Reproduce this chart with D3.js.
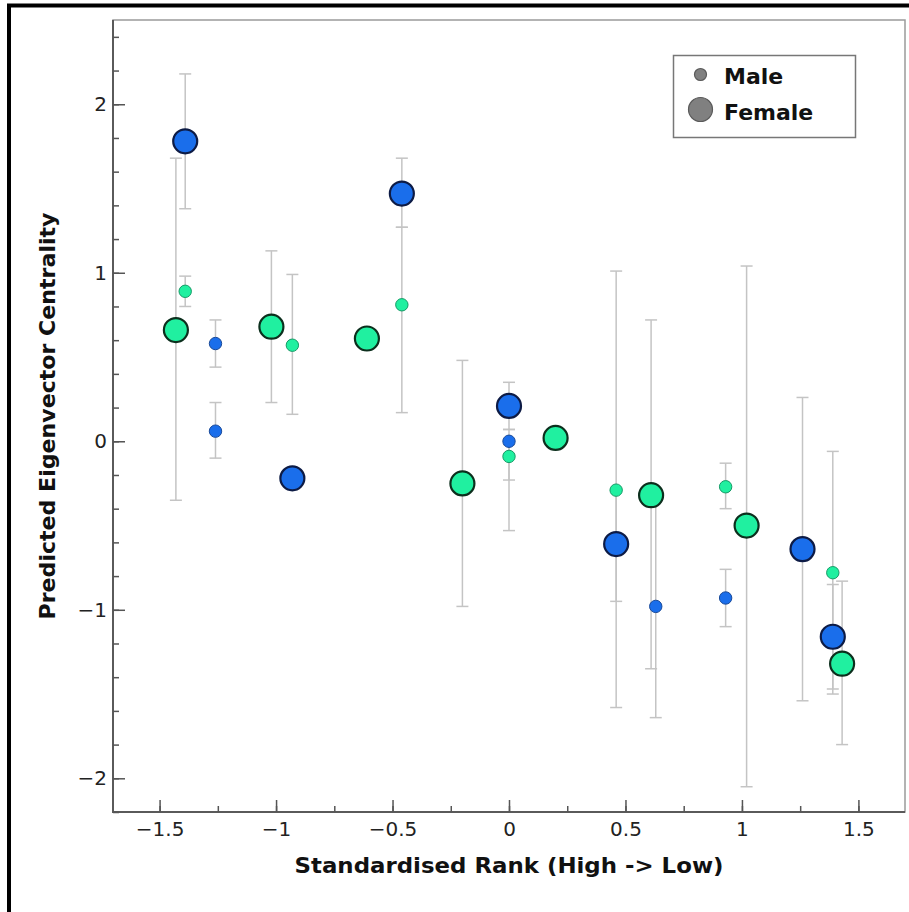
<!DOCTYPE html>
<html>
<head>
<meta charset="utf-8">
<script src="https://cdn.jsdelivr.net/npm/d3@7"></script>
<style>
  html, body { margin: 0; padding: 0; background: #fff; }
  svg { display: block; }
</style>
</head>
<body>
<svg id="chart" width="909" height="912"></svg>
<script>
// Females, blue group
const femBlueX  = [-1.39, -0.93, -0.46, 0.00, 0.46, 1.26, 1.39];
const femBlueY  = [1.78, -0.22, 1.47, 0.21, -0.61, -0.64, -1.16];
const femBlueLo = [1.38, null, 1.27, 0.07, -1.58, -1.54, -1.47];
const femBlueHi = [2.18, null, 1.68, 0.35, -0.29, 0.26, -0.85];

// Females, green group
const femGreenX  = [-1.43, -1.02, -0.61, -0.20, 0.20, 0.61, 1.02, 1.43];
const femGreenY  = [0.66, 0.68, 0.61, -0.25, 0.02, -0.32, -0.50, -1.32];
const femGreenLo = [-0.35, 0.23, null, -0.98, null, -1.35, -2.05, -1.80];
const femGreenHi = [1.68, 1.13, null, 0.48, null, 0.72, 1.04, -0.83];

// Males, blue group
const maleBlueX  = [-1.26, -1.26, 0.00, 0.63, 0.93];
const maleBlueY  = [0.58, 0.06, 0.00, -0.98, -0.93];
const maleBlueLo = [0.44, -0.10, -0.23, -1.64, -1.10];
const maleBlueHi = [0.72, 0.23, 0.07, -0.36, -0.76];

// Males, green group
const maleGreenX  = [-1.39, -0.93, -0.46, 0.00, 0.46, 0.93, 1.39];
const maleGreenY  = [0.89, 0.57, 0.81, -0.09, -0.29, -0.27, -0.78];
const maleGreenLo = [0.80, 0.16, 0.17, -0.53, -0.95, -0.40, -1.50];
const maleGreenHi = [0.98, 0.99, 1.27, -0.02, 1.01, -0.13, -0.06];

const xTicks = [-1.5, -1, -0.5, 0, 0.5, 1, 1.5];
const yTicks = [-2, -1, 0, 1, 2];
const legendLabels = ["Male", "Female"];

const xTitle = "Standardised Rank (High -> Low)";
const yTitle = "Predicted Eigenvector Centrality";

const svg = d3.select("#chart");
const plotLeft = 113, plotTop = 20, plotRight = 905, plotBottom = 812;

const x = d3.scaleLinear().domain([-1.7, 1.7]).range([plotLeft, plotRight]);
const y = d3.scaleLinear().domain([-2.2, 2.5]).range([plotBottom, plotTop]);

const BLUE = "#1a6eeb", GREEN = "#20f0a0";

// outer border of the figure
svg.append("path")
  .attr("d", "M9,912 V5.5 H909")
  .attr("fill", "none").attr("stroke", "#000").attr("stroke-width", 4);

// plot frame
svg.append("rect")
  .attr("x", plotLeft).attr("y", plotTop)
  .attr("width", plotRight - plotLeft).attr("height", plotBottom - plotTop)
  .attr("fill", "none").attr("stroke", "#9a9a9a").attr("stroke-width", 1.5);
svg.append("path")
  .attr("d", `M${plotLeft},${plotTop} V${plotBottom} H${plotRight}`)
  .attr("fill", "none").attr("stroke", "#5a5a5a").attr("stroke-width", 2);

const fmt = d3.format("");
const tickFont = "'DejaVu Sans', Verdana, sans-serif";

// x axis: major and minor ticks pointing inward
const xMinor = d3.range(-7, 8).map(v => v * 0.25).filter(v => Math.abs(v) <= 1.7);
svg.append("g")
  .attr("transform", `translate(0,${plotBottom})`)
  .call(d3.axisBottom(x).tickValues(xMinor).tickSize(-6).tickFormat(""))
  .call(g => g.select(".domain").remove())
  .call(g => g.selectAll("line").attr("stroke", "#555").attr("stroke-width", 1.5));
svg.append("g")
  .attr("transform", `translate(0,${plotBottom})`)
  .call(d3.axisBottom(x).tickValues(xTicks).tickSize(-12).tickPadding(10).tickFormat(fmt))
  .call(g => g.select(".domain").remove())
  .call(g => g.selectAll("line").attr("stroke", "#555").attr("stroke-width", 1.5))
  .call(g => g.selectAll("text").attr("fill", "#222")
    .style("font-family", tickFont).style("font-size", "20px"));

// y axis
const yMinor = d3.range(-11, 13).map(v => v / 5);
svg.append("g")
  .attr("transform", `translate(${plotLeft},0)`)
  .call(d3.axisLeft(y).tickValues(yMinor).tickSize(-6).tickFormat(""))
  .call(g => g.select(".domain").remove())
  .call(g => g.selectAll("line").attr("stroke", "#555").attr("stroke-width", 1.5));
svg.append("g")
  .attr("transform", `translate(${plotLeft},0)`)
  .call(d3.axisLeft(y).tickValues(yTicks).tickSize(-12).tickPadding(6).tickFormat(fmt))
  .call(g => g.select(".domain").remove())
  .call(g => g.selectAll("line").attr("stroke", "#555").attr("stroke-width", 1.5))
  .call(g => g.selectAll("text").attr("fill", "#222")
    .style("font-family", tickFont).style("font-size", "20px"));

// axis titles
const titleFont = "Tahoma, 'DejaVu Sans', sans-serif";
svg.append("text")
  .attr("x", (plotLeft + plotRight) / 2).attr("y", 873)
  .attr("text-anchor", "middle")
  .attr("textLength", 429).attr("lengthAdjust", "spacingAndGlyphs")
  .style("font-family", titleFont).style("font-weight", "bold").style("font-size", "21px")
  .attr("fill", "#111")
  .text(xTitle);
svg.append("text")
  .attr("transform", `translate(55,${(plotTop + plotBottom) / 2}) rotate(-90)`)
  .attr("text-anchor", "middle")
  .attr("textLength", 407).attr("lengthAdjust", "spacingAndGlyphs")
  .style("font-family", titleFont).style("font-weight", "bold").style("font-size", "21px")
  .attr("fill", "#111")
  .text(yTitle);

// assemble series for drawing
function series(xs, ys, los, his, color, big) {
  return xs.map((v, i) => ({ x: v, y: ys[i], lo: los[i], hi: his[i], color, big }));
}
const points = [
  ...series(femGreenX, femGreenY, femGreenLo, femGreenHi, GREEN, true),
  ...series(femBlueX, femBlueY, femBlueLo, femBlueHi, BLUE, true),
  ...series(maleGreenX, maleGreenY, maleGreenLo, maleGreenHi, GREEN, false),
  ...series(maleBlueX, maleBlueY, maleBlueLo, maleBlueHi, BLUE, false)
];

// error bars
const errColor = "#c4c4c4";
const eb = svg.append("g").attr("stroke", errColor).attr("stroke-width", 1.5).attr("fill", "none");
points.filter(d => d.lo !== null && d.hi !== null).forEach(d => {
  const cx = x(d.x);
  eb.append("line").attr("x1", cx).attr("x2", cx).attr("y1", y(d.lo)).attr("y2", y(d.hi));
  eb.append("line").attr("x1", cx - 6).attr("x2", cx + 6).attr("y1", y(d.lo)).attr("y2", y(d.lo));
  eb.append("line").attr("x1", cx - 6).attr("x2", cx + 6).attr("y1", y(d.hi)).attr("y2", y(d.hi));
});

// points
const strokeFor = d => d.big
  ? (d.color === BLUE ? "#0d1b45" : "#0c2f1d")
  : (d.color === BLUE ? "#1a4a99" : "#169a66");
svg.append("g").selectAll("circle")
  .data(points)
  .join("circle")
  .attr("cx", d => x(d.x))
  .attr("cy", d => y(d.y))
  .attr("r", d => d.big ? 12 : 6.2)
  .attr("fill", d => d.color)
  .attr("stroke", strokeFor)
  .attr("stroke-width", d => d.big ? 2.2 : 1);

// legend
const lg = svg.append("g");
lg.append("rect")
  .attr("x", 673.5).attr("y", 55.5).attr("width", 182).attr("height", 82)
  .attr("fill", "#fff").attr("stroke", "#777").attr("stroke-width", 1.5);
const legendRows = [
  { label: legendLabels[0], r: 6, cy: 74.5, ty: 84 },
  { label: legendLabels[1], r: 12, cy: 109.5, ty: 120 }
];
legendRows.forEach(row => {
  lg.append("circle")
    .attr("cx", 700.5).attr("cy", row.cy).attr("r", row.r)
    .attr("fill", "#808080").attr("stroke", "#5a5a5a").attr("stroke-width", 1.2);
  lg.append("text")
    .attr("x", 724).attr("y", row.ty)
    .style("font-family", "'DejaVu Sans', Verdana, sans-serif")
    .style("font-weight", "bold").style("font-size", "22px")
    .attr("fill", "#111")
    .text(row.label);
});
</script>
</body>
</html>
